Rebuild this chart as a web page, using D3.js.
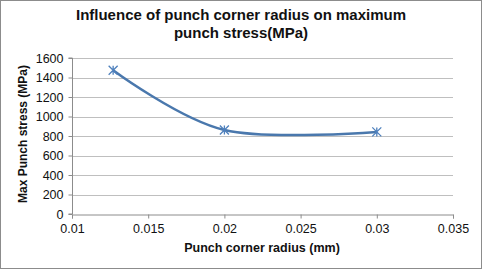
<!DOCTYPE html>
<html lang="en">
<head>
<meta charset="UTF-8">
<script src="https://cdnjs.cloudflare.com/ajax/libs/d3/7.8.5/d3.min.js"></script>
<style>
  body { margin: 0; background: #fff; }
  svg text { font-family: "Liberation Sans", Arial, sans-serif; }
</style>
</head>
<body>
<script>
  // data
  var radius = [0.0127, 0.02, 0.03];
  var stress = [1475, 862, 842];
  var xTicks = [0.01, 0.015, 0.02, 0.025, 0.03, 0.035];
  var yTicks = [0, 200, 400, 600, 800, 1000, 1200, 1400, 1600];

  var W = 482, H = 269;
  var svg = d3.select('body').append('svg').attr('width', W).attr('height', H);

  // chart border
  svg.append('rect').attr('x', 0.5).attr('y', 0.5).attr('width', W - 1).attr('height', H - 1)
    .attr('fill', '#fff').attr('stroke', '#8c8c8c');

  var x = d3.scaleLinear().domain([0.01, 0.035]).range([72, 453]);
  var y = d3.scaleLinear().domain([0, 1600]).range([214, 58]);

  // gridlines
  svg.append('g').selectAll('line').data(yTicks.slice(1)).enter().append('line')
    .attr('x1', x(0.01)).attr('x2', x(0.035))
    .attr('y1', function (d) { return Math.round(y(d)) + 0.5; })
    .attr('y2', function (d) { return Math.round(y(d)) + 0.5; })
    .attr('stroke', '#bfbfbf');

  // axes
  var xAxis = svg.append('g').attr('transform', 'translate(0,' + (Math.round(y(0)) + 0.5) + ')')
    .call(d3.axisBottom(x).tickValues(xTicks).tickSize(4).tickPadding(6)
      .tickFormat(function (d) { return String(+d.toFixed(3)); }));
  var yAxis = svg.append('g').attr('transform', 'translate(' + (Math.round(x(0.01)) + 0.5) + ',0)')
    .call(d3.axisLeft(y).tickValues(yTicks).tickSize(4).tickPadding(5).tickFormat(d3.format('d')));
  [xAxis, yAxis].forEach(function (g) {
    g.selectAll('path,line').attr('stroke', '#8c8c8c');
    g.selectAll('text').attr('font-size', 12.5).attr('fill', '#111')
      .style('font-family', '"Liberation Sans", Arial, sans-serif');
  });
  yAxis.select('.domain').attr('d', 'M-4,' + y(1600) + 'H0V' + y(0) + 'H-4');

  // smoothed line
  var pts = radius.map(function (r, i) { return [x(r), y(stress[i])]; });
  svg.append('path').datum(pts)
    .attr('d', d3.line().curve(d3.curveCatmullRom.alpha(0)))
    .attr('fill', 'none').attr('stroke', '#4a78ad').attr('stroke-width', 2.5);

  // star markers
  var s = 4.5;
  var mk = svg.append('g').selectAll('g').data(pts).enter().append('g')
    .attr('transform', function (d) { return 'translate(' + d[0] + ',' + d[1] + ')'; });
  mk.append('path')
    .attr('d', 'M' + -s + ',' + -s + 'L' + s + ',' + s + 'M' + -s + ',' + s + 'L' + s + ',' + -s + 'M0,' + -s + 'V' + s)
    .attr('stroke', '#4f81bd').attr('stroke-width', 1.3).attr('fill', 'none');

  // title
  var title = svg.append('text').attr('text-anchor', 'middle').attr('font-size', 15)
    .attr('font-weight', 'bold').attr('fill', '#111');
  title.append('tspan').attr('x', 241).attr('y', 20).text('Influence of punch corner radius on maximum');
  title.append('tspan').attr('x', 241).attr('y', 38).text('punch stress(MPa)');

  // axis titles
  svg.append('text').attr('x', 262).attr('y', 252).attr('text-anchor', 'middle')
    .attr('font-size', 12.5).attr('font-weight', 'bold').attr('fill', '#111')
    .text('Punch corner radius (mm)');
  svg.append('text').attr('transform', 'translate(27,' + 134 + ') rotate(-90)')
    .attr('text-anchor', 'middle').attr('font-size', 12).attr('font-weight', 'bold').attr('fill', '#111')
    .text('Max Punch stress (MPa)');
</script>
</body>
</html>
